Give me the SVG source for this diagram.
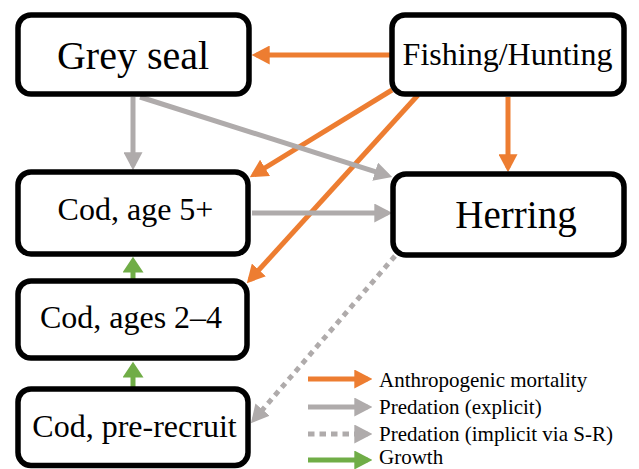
<svg xmlns="http://www.w3.org/2000/svg" width="639" height="469" viewBox="0 0 639 469">
<style>
.box{fill:#fff;stroke:#000;stroke-width:5.5}
.t{font-family:'Liberation Serif','Tinos','DejaVu Serif',serif;fill:#000;text-anchor:middle}
.lg{font-family:'Liberation Serif','Tinos','DejaVu Serif',serif;fill:#000;font-size:21px}
.or{stroke:#ED7D31;stroke-width:5;fill:none;marker-end:url(#mo)}
.gr{stroke:#AFABAB;stroke-width:5;fill:none;marker-end:url(#mg)}
.dt{stroke:#AFABAB;stroke-width:5;fill:none;stroke-dasharray:5.5 5;marker-end:url(#mg)}
.gn{stroke:#70AD47;stroke-width:5;fill:none;marker-end:url(#mn)}
</style>
<defs>
<marker id="mo" markerUnits="userSpaceOnUse" markerWidth="18" markerHeight="19" refX="12.5" refY="9" orient="auto" viewBox="0 0 17 18"><path d="M0,0 L17,9 L0,18 z" fill="#ED7D31"/></marker>
<marker id="mg" markerUnits="userSpaceOnUse" markerWidth="18" markerHeight="19" refX="12.5" refY="9" orient="auto" viewBox="0 0 17 18"><path d="M0,0 L17,9 L0,18 z" fill="#AFABAB"/></marker>
<marker id="mn" markerUnits="userSpaceOnUse" markerWidth="18" markerHeight="21" refX="11" refY="10" orient="auto" viewBox="0 0 15 20"><path d="M0,0 L15,10 L0,20 z" fill="#70AD47"/></marker>
<marker id="mn2" markerUnits="userSpaceOnUse" markerWidth="18" markerHeight="19" refX="12.5" refY="9" orient="auto" viewBox="0 0 17 18"><path d="M0,0 L17,9 L0,18 z" fill="#70AD47"/></marker>
</defs>
<g id="connectors">
<line class="or" x1="392" y1="55" x2="256.5" y2="55"/>
<line class="or" x1="508" y1="97" x2="508" y2="167.5"/>
<line class="or" x1="392" y1="90" x2="253.8" y2="174.7"/>
<line class="or" x1="418" y1="95" x2="250" y2="279.7"/>
<line class="gr" x1="133" y1="97" x2="133" y2="165.5"/>
<line class="gr" x1="140" y1="97" x2="387.7" y2="175.6"/>
<line class="gr" x1="252" y1="213" x2="387.5" y2="213"/>
<line class="dt" x1="395" y1="256" x2="254" y2="419.6"/>
<line class="gn" x1="133" y1="279" x2="133" y2="261"/>
<line class="gn" x1="133" y1="387" x2="133" y2="366"/>
</g>
<g id="grey-seal"><rect class="box" x="18" y="15" width="231" height="79" rx="13"/><text class="t" x="133" y="69" font-size="40">Grey seal</text></g>
<g id="fishing-hunting"><rect class="box" x="392" y="15" width="232" height="79" rx="13"/><text class="t" x="507.5" y="65" font-size="32">Fishing/Hunting</text></g>
<g id="cod-5plus"><rect class="box" x="18" y="172" width="230" height="82" rx="13"/><text class="t" x="135.5" y="220" font-size="32">Cod, age 5+</text></g>
<g id="cod-2-4"><rect class="box" x="18" y="281" width="229" height="77" rx="13"/><text class="t" x="131" y="328" font-size="32">Cod, ages 2–4</text></g>
<g id="cod-pre-recruit"><rect class="box" x="18" y="389" width="230" height="76.5" rx="13"/><text class="t" x="134.5" y="437" font-size="32">Cod, pre-recruit</text></g>
<g id="herring"><rect class="box" x="393" y="174" width="231" height="81" rx="13"/><text class="t" x="516" y="228" font-size="39">Herring</text></g>
<g id="legend">
<line class="or" x1="308" y1="379" x2="367.5" y2="379"/>
<line class="gr" x1="308" y1="407" x2="367.5" y2="407"/>
<line class="dt" x1="308" y1="434" x2="367.5" y2="434" style="stroke-dasharray:6.5 5"/>
<line class="gn" x1="308" y1="460" x2="367.5" y2="460" style="marker-end:url(#mn2)"/>
<text class="lg" x="379" y="387">Anthropogenic mortality</text>
<text class="lg" x="379" y="414">Predation (explicit)</text>
<text class="lg" x="379" y="441">Predation (implicit via S-R)</text>
<text class="lg" x="379" y="464.3">Growth</text>
</g>
</svg>
